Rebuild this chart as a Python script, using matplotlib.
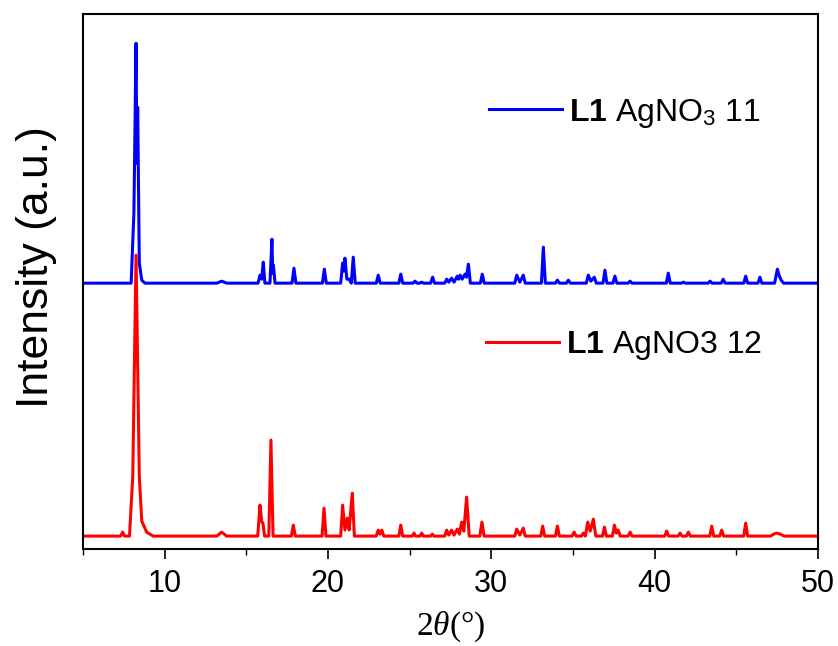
import matplotlib
matplotlib.use('Agg')
import matplotlib.pyplot as plt
from matplotlib import font_manager
from matplotlib.ticker import MultipleLocator

# pattern vertices (2theta in degrees, intensity in a.u. above baseline)
red_2theta = [5.0,
              7.30, 7.43, 7.55,
              7.85, 8.05, 8.25, 8.45, 8.60, 8.90, 9.30,
              13.2, 13.49, 13.8,
              15.70, 15.84, 15.95, 16.02, 16.12,
              16.38, 16.51, 16.64,
              17.76, 17.88, 18.00,
              19.64, 19.76, 19.88,
              20.78, 20.90, 21.04, 21.18, 21.30, 21.49, 21.62,
              22.95, 23.08, 23.18, 23.30, 23.42,
              24.34, 24.46, 24.58,
              25.17, 25.27, 25.37,
              25.64, 25.74, 25.84,
              26.29, 26.39, 26.49,
              27.15, 27.27, 27.40, 27.57, 27.72, 27.92, 28.05, 28.19, 28.32, 28.49, 28.65,
              29.30, 29.43, 29.56,
              31.44, 31.56, 31.75, 31.96, 32.08,
              33.03, 33.15, 33.27,
              33.93, 34.05, 34.17,
              34.95, 35.07, 35.20,
              35.52, 35.64, 35.76, 35.91, 36.06, 36.25, 36.40,
              36.81, 36.93, 37.05,
              37.42, 37.54, 37.66, 37.77, 37.90,
              38.38, 38.50, 38.62,
              40.62, 40.74, 40.86,
              41.44, 41.56, 41.68,
              41.95, 42.07, 42.19,
              43.38, 43.50, 43.62,
              43.99, 44.11, 44.23,
              45.46, 45.58, 45.70,
              47.10, 47.30, 47.47, 47.70, 47.95,
              50.0]
red_int = [0,
           0, 4, 0,
           0, 60, 281, 60, 15, 4, 0,
           0, 4, 0,
           0, 31, 14, 13, 0,
           0, 96, 0,
           0, 11, 0,
           0, 28, 0,
           0, 31, 6, 18, 6, 43, 0,
           0, 6, 2, 6, 0,
           0, 11, 0,
           0, 3, 0,
           0, 3, 0,
           0, 2, 0,
           0, 6, 1, 6, 1, 7, 2, 14, 5, 39, 0,
           0, 14, 0,
           0, 7, 1, 8, 0,
           0, 10, 0,
           0, 10, 0,
           0, 4, 0,
           0, 3, 0, 14, 5, 17, 0,
           0, 9, 0,
           0, 11, 3, 6, 0,
           0, 4, 0,
           0, 5, 0,
           0, 3, 0,
           0, 4, 0,
           0, 10, 0,
           0, 6, 0,
           0, 13, 0,
           0, 2, 3, 2, 0,
           0]

blue_2theta = [5.0,
               7.95, 8.12, 8.25, 8.30, 8.35, 8.45, 8.60, 8.80,
               13.2, 13.49, 13.8,
               15.72, 15.84, 15.94, 16.04, 16.14,
               16.45, 16.57, 16.62, 16.66, 16.76,
               17.80, 17.92, 18.04,
               19.66, 19.78, 19.90,
               20.78, 20.90, 20.97, 21.04, 21.16, 21.30, 21.43, 21.55, 21.67,
               22.96, 23.08, 23.20,
               24.34, 24.46, 24.58,
               25.21, 25.33, 25.45,
               25.62, 25.74, 25.86,
               26.29, 26.41, 26.53,
               27.15, 27.27, 27.40, 27.57, 27.72, 27.92, 28.00, 28.09, 28.22, 28.39, 28.48, 28.60, 28.72,
               29.33, 29.45, 29.57,
               31.44, 31.56, 31.75, 31.96, 32.08,
               33.07, 33.19, 33.31,
               33.93, 34.05, 34.17,
               34.60, 34.72, 34.84,
               35.82, 35.94, 36.10, 36.31, 36.43,
               36.84, 36.96, 37.08,
               37.45, 37.57, 37.69,
               38.38, 38.50, 38.62,
               40.72, 40.84, 40.96,
               41.64, 41.76, 41.88,
               43.28, 43.40, 43.52,
               44.08, 44.20, 44.32,
               45.46, 45.58, 45.70,
               46.33, 46.45, 46.57,
               47.35, 47.52, 47.62, 47.75, 47.90,
               50.0]
blue_int = [0,
            0, 71, 240, 120, 176, 20, 3, 0,
            0, 2, 0,
            0, 8, 4, 21, 0,
            0, 44, 10, 18, 0,
            0, 15, 0,
            0, 14, 0,
            0, 20, 12, 25, 4, 4, 0, 26, 0,
            0, 8, 0,
            0, 9, 0,
            0, 2, 0,
            0, 1, 0,
            0, 6, 0,
            0, 4, 1, 5, 1, 7, 4, 8, 4, 9, 6, 19, 0,
            0, 9, 0,
            0, 8, 1, 8, 0,
            0, 36, 0,
            0, 3, 0,
            0, 3, 0,
            0, 8, 2, 6, 0,
            0, 13, 0,
            0, 7, 0,
            0, 2, 0,
            0, 10, 0,
            0, 1, 0,
            0, 2, 0,
            0, 4, 0,
            0, 7, 0,
            0, 6, 0,
            0, 14, 8, 3, 0,
            0]
blue_offset = 253

labels = [r'$\mathbf{L1}$ AgNO$_3$ 11', r'$\mathbf{L1}$ AgNO3 12']

names = {f.name for f in font_manager.fontManager.ttflist}
tick_font = 'Liberation Sans Narrow' if 'Liberation Sans Narrow' in names else 'Liberation Sans'
tick_size = 25 if tick_font == 'Liberation Sans Narrow' else 22

plt.rcParams['font.family'] = ['Liberation Sans', 'DejaVu Sans']
plt.rcParams['mathtext.fontset'] = 'custom'
plt.rcParams['mathtext.rm'] = 'Liberation Sans'
plt.rcParams['mathtext.bf'] = 'Liberation Sans:bold'
plt.rcParams['mathtext.it'] = 'Liberation Serif:italic'

fig = plt.figure(figsize=(8.38, 6.46), dpi=100)
ax = fig.add_axes([0.099, 0.150, 0.877, 0.828])

blue_y = [v + blue_offset for v in blue_int]
l1, = ax.plot(blue_2theta, blue_y, color='#0000ff', lw=2.2)
l2, = ax.plot(red_2theta, red_int, color='#ff0000', lw=2.2)

ax.set_xlim(5, 50)
ax.set_ylim(-13, 522)
ax.xaxis.set_major_locator(MultipleLocator(10))
ax.xaxis.set_minor_locator(MultipleLocator(5))
ax.set_yticks([])
ax.tick_params(axis='x', which='major', direction='out', length=7, width=1.2, pad=7)
ax.tick_params(axis='x', which='minor', direction='out', length=4, width=1.0)
for lab in ax.get_xticklabels():
    lab.set_fontfamily(tick_font)
    lab.set_fontsize(tick_size)
for s in ax.spines.values():
    s.set_linewidth(1.5)

ax.set_xlabel(r'2$\mathit{\theta}$(°)', fontsize=24, family='Liberation Serif', labelpad=8)
ax.set_ylabel('Intensity (a.u.)', fontsize=32)
ax.yaxis.set_label_coords(-0.036, 0.527)

leg1 = ax.legend([l1], [labels[0]], loc='center left', bbox_to_anchor=(0.513, 0.815),
                 frameon=False, fontsize=23, handlelength=2.3, handletextpad=0.2)
ax.add_artist(leg1)
ax.legend([l2], [labels[1]], loc='center left', bbox_to_anchor=(0.509, 0.38),
          frameon=False, fontsize=23, handlelength=2.3, handletextpad=0.2)

plt.savefig('out.png', dpi=100)
